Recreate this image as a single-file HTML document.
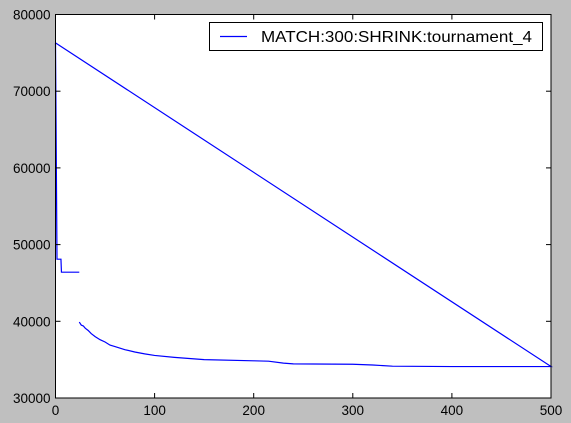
<!DOCTYPE html>
<html><head><meta charset="utf-8"><style>
html,body{margin:0;padding:0;background:#bfbfbf;}
svg{display:block;font-family:"Liberation Sans",sans-serif;}
</style></head><body>
<svg id="chart" width="571" height="423">
<rect x="55.5" y="14.5" width="495.5" height="383.5" fill="#fff"/>
<g id="marks"></g>
<rect x="55.5" y="14.5" width="495.5" height="383.5" fill="none" stroke="#000" stroke-width="1"/>
<g id="axes"></g>
<g>
<rect x="209.5" y="22.5" width="333" height="28" fill="#fff" stroke="#000"/>
<line x1="220" y1="36.5" x2="247" y2="36.5" stroke="#0000ff" stroke-width="1.2"/>
<text x="261" y="42" font-size="16" textLength="271" lengthAdjust="spacingAndGlyphs" fill="#000">MATCH:300:SHRINK:tournament_4</text>
</g>
</svg>
<script>
const seg1X=[0,1.5,5.5,6,24];
const seg1Y=[76300,48100,48100,46400,46400];
const seg2X=[24,26,28,30,33,36,40,45,50,55,60,70,80,90,100,120,150,200,215,230,240,300,320,340,400,500,0];
const seg2Y=[39900,39500,39400,39100,38800,38400,38000,37600,37300,36900,36700,36300,36000,35750,35550,35300,35000,34850,34800,34550,34450,34400,34300,34150,34100,34100,76300];
const xTicks=[0,100,200,300,400,500];
const yTicks=[30000,40000,50000,60000,70000,80000];
const L=55.5,R=551,T=14.5,B=398;
const sx=v=>L+(v-0)/500*(R-L);
const sy=v=>B-(v-30000)/50000*(B-T);
const NS="http://www.w3.org/2000/svg";
const marks=document.getElementById('marks');
function path(xs,ys,name){
  const p=document.createElementNS(NS,'path');
  p.setAttribute('d',xs.map((x,i)=>(i?'L':'M')+sx(x).toFixed(2)+','+sy(ys[i]).toFixed(2)).join(''));
  p.setAttribute('fill','none');p.setAttribute('stroke','#0000ff');p.setAttribute('stroke-width','1.2');
  
  
  marks.appendChild(p);
}
path(seg1X,seg1Y,'series-line-segment-1');
path(seg2X,seg2Y,'series-line-segment-2');
const axes=document.getElementById('axes');
xTicks.forEach(t=>{
  const x=sx(t);
  const g=document.createElementNS(NS,'g');
  
  
  g.innerHTML=`<line x1="${x}" y1="${B}" x2="${x}" y2="${B-5}" stroke="#000"/><line x1="${x}" y1="${T}" x2="${x}" y2="${T+5}" stroke="#000"/><text x="${x}" y="${B+17}" font-size="13.5" text-anchor="middle">${t}</text>`;
  axes.appendChild(g);
});
yTicks.forEach(t=>{
  const y=sy(t);
  const g=document.createElementNS(NS,'g');
  
  
  g.innerHTML=`<line x1="${L}" y1="${y}" x2="${L+5}" y2="${y}" stroke="#000"/><line x1="${R}" y1="${y}" x2="${R-5}" y2="${y}" stroke="#000"/><text x="${L-5}" y="${y+5}" font-size="13.5" text-anchor="end">${t}</text>`;
  axes.appendChild(g);
});
</script>
</body></html>
